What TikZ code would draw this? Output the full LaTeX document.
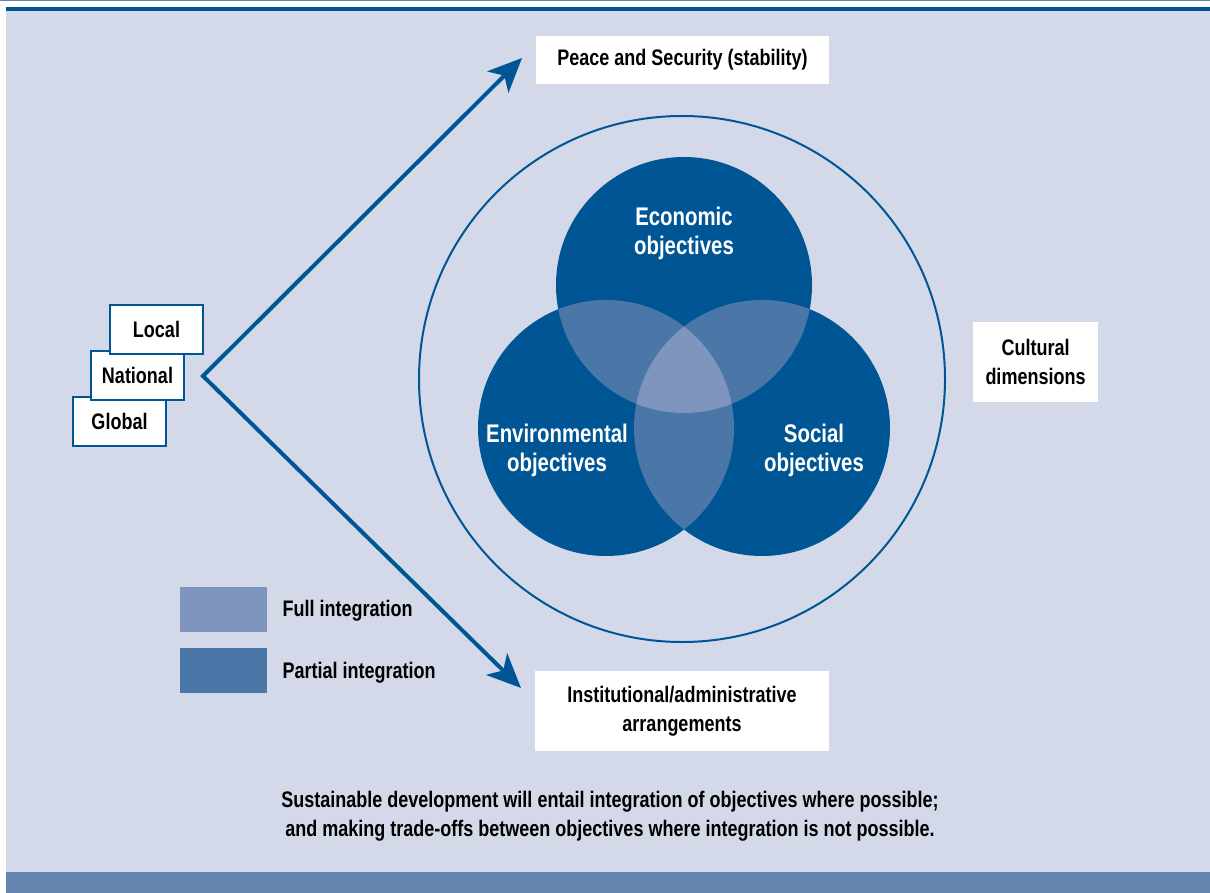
\documentclass[tikz,border=0pt]{standalone}
\usepackage{fontspec}
\setmainfont{Liberation Sans}[FakeStretch=0.8]
\usetikzlibrary{arrows.meta}
\definecolor{pagebg}{RGB}{211,217,232}
\definecolor{deepblue}{RGB}{0,86,148}
\definecolor{partialblue}{RGB}{74,118,168}
\definecolor{fullblue}{RGB}{126,149,190}
\definecolor{bandblue}{RGB}{101,132,176}
\tikzset{
  x=1pt, y=-1pt,
  labelbox/.style={fill=white, inner sep=0pt, align=center,
    font=\bfseries\fontsize{22.5}{29}\selectfont},
  levelbox/.style={draw=deepblue, line width=2pt, fill=white, inner sep=0pt,
    minimum width=93pt, minimum height=49pt,
    font=\bfseries\fontsize{22.5}{29}\selectfont},
  circletext/.style={text=white, align=center,
    font=\bfseries\fontsize{25.5}{29}\selectfont},
  plaintext/.style={align=center, font=\bfseries\fontsize{22.5}{29}\selectfont},
  legendsw/.style={inner sep=0pt, minimum width=87pt, minimum height=45pt},
  arrowline/.style={draw=deepblue, line width=4pt, line join=miter,
    {Stealth[length=34pt,width=30pt,inset=9pt]}-{Stealth[length=34pt,width=30pt,inset=9pt]}},
}
\begin{document}
\begin{tikzpicture}
\useasboundingbox (0,0) rectangle (1210,893);
% frame: thin rule, heavy rule, panel and foot band
\fill[bandblue] (0,0) rectangle (1210,1.5);
\fill[deepblue] (6,7) rectangle (1210,11);
\fill[pagebg] (6,11) rectangle (1210,872);
\fill[bandblue] (6,872) rectangle (1210,893);

% circle centres
\coordinate (eco) at (684,285);
\coordinate (env) at (606,428);
\coordinate (soc) at (762,428);
\coordinate (outer) at (682,379);

% enclosing circle
\draw[deepblue, line width=2pt] (outer) circle[radius=263pt];

% three objective circles
\fill[deepblue] (eco) circle[radius=128pt];
\fill[deepblue] (env) circle[radius=128pt];
\fill[deepblue] (soc) circle[radius=128pt];
% pairwise overlaps
\begin{scope}
  \clip (eco) circle[radius=128pt];
  \fill[partialblue] (env) circle[radius=128pt];
  \fill[partialblue] (soc) circle[radius=128pt];
\end{scope}
\begin{scope}
  \clip (env) circle[radius=128pt];
  \fill[partialblue] (soc) circle[radius=128pt];
\end{scope}
% triple overlap
\begin{scope}
  \clip (eco) circle[radius=128pt];
  \clip (env) circle[radius=128pt];
  \fill[fullblue] (soc) circle[radius=128pt];
\end{scope}

\node[circletext] (ecotext) at (684,233) {Economic\\objectives};
\node[circletext] (envtext) at (557,450) {Environmental\\objectives};
\node[circletext] (soctext) at (814,450) {Social\\objectives};

% outcome boxes
\node[labelbox, minimum width=293pt, minimum height=48pt] (peace) at (682.5,60) {Peace and Security (stability)};
\node[labelbox, minimum width=125pt, minimum height=80pt] (culture) at (1035.5,362) {Cultural\\dimensions};
\node[labelbox, minimum width=294pt, minimum height=80pt] (inst) at (682,711) {Institutional/administrative\\arrangements};

% level boxes, back to front
\node[levelbox] (global) at (119.5,421) {Global};
\node[levelbox] (national) at (137.5,375) {National};
\node[levelbox] (local) at (156.5,329.5) {Local};

% branching arrow
\coordinate (apex) at (203,376);
\coordinate (uptip) at (522,58);
\coordinate (downtip) at (521,688);
\draw[arrowline] (uptip) -- (apex) -- (downtip);

% legend
\node[legendsw, fill=fullblue] (fullsw) at (223.5,609.5) {};
\node[legendsw, fill=partialblue] (partsw) at (223.5,670.5) {};
\node[plaintext, anchor=west] (fulltext) at (279,611) {Full integration};
\node[plaintext, anchor=west] (parttext) at (279,673) {Partial integration};

% caption
\node[plaintext] (caption) at (610,816) {Sustainable development will entail integration of objectives where possible;\\and making trade-offs between objectives where integration is not possible.};
\end{tikzpicture}
\end{document}
